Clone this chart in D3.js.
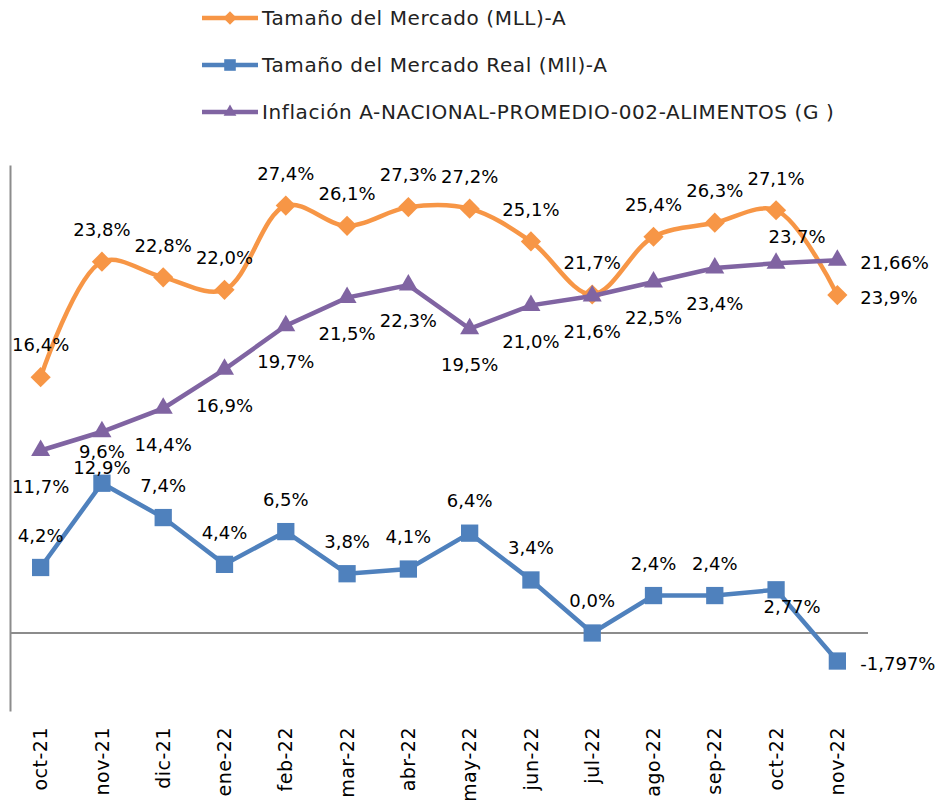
<!DOCTYPE html>
<meta charset="utf-8">
<style>
	body { margin: 0; background: #fff; }
	text { font-family: "DejaVu Sans", sans-serif; font-size: 18px; fill: #000; }
	.axis path { stroke: #8c8c8c; stroke-width: 2px; }
	.zero { stroke: #8c8c8c; stroke-width: 2px; }
	.line { fill: none; stroke-width: 4.5px; }
	.legend text { font-size: 20px; letter-spacing: 0.6px; fill: #222; }
</style>
<svg width="938" height="800"></svg>
<script src="https://cdnjs.cloudflare.com/ajax/libs/d3/7.8.5/d3.min.js"></script>
<script>

var months = ["oct-21","nov-21","dic-21","ene-22","feb-22","mar-22","abr-22",
	"may-22","jun-22","jul-22","ago-22","sep-22","oct-22","nov-22"];

var mercado = [16.4, 23.8, 22.8, 22.0, 27.4, 26.1, 27.3, 27.2, 25.1, 21.7, 25.4, 26.3, 27.1, 21.66];
var mercadoLabels = ["16,4%","23,8%","22,8%","22,0%","27,4%","26,1%","27,3%","27,2%","25,1%","21,7%","25,4%","26,3%","27,1%","23,9%"];
var mercadoPos = ["t","t","t","t","t","t","t","t","t","t","t","t","t","r"];

var real = [4.2, 9.6, 7.4, 4.4, 6.5, 3.8, 4.1, 6.4, 3.4, 0.0, 2.4, 2.4, 2.77, -1.797];
var realLabels = ["4,2%","9,6%","7,4%","4,4%","6,5%","3,8%","4,1%","6,4%","3,4%","0,0%","2,4%","2,4%","2,77%","-1,797%"];
var realPos = ["t","t","t","t","t","t","t","t","t","t","t","t","br","r"];

var inflacion = [11.7, 12.9, 14.4, 16.9, 19.7, 21.5, 22.3, 19.5, 21.0, 21.6, 22.5, 23.4, 23.7, 23.9];
var inflacionLabels = ["11,7%","12,9%","14,4%","16,9%","19,7%","21,5%","22,3%","19,5%","21,0%","21,6%","22,5%","23,4%","23,7%","21,66%"];
var inflacionPos = ["b","b","b","b","b","b","b","b","b","b","b","b","tr","r"];

var series = [
	{name: "Tamaño del Mercado (MLL)-A", values: mercado, labels: mercadoLabels, pos: mercadoPos,
		color: "#F79646", symbol: d3.symbolDiamond2, size: 260, smooth: true},
	{name: "Tamaño del Mercado Real (Mll)-A", values: real, labels: realLabels, pos: realPos,
		color: "#4F81BD", symbol: d3.symbolSquare2, size: 380, smooth: false},
	{name: "Inflación A-NACIONAL-PROMEDIO-002-ALIMENTOS (G )", values: inflacion, labels: inflacionLabels, pos: inflacionPos,
		color: "#8064A2", symbol: d3.symbolTriangle2, size: 260, smooth: false}
];

// label offsets from the point centre
var offsets = {
	t:  {dx: 0,  dy: -32, anchor: "middle"},
	b:  {dx: 0,  dy: 36,  anchor: "middle"},
	r:  {dx: 23, dy: 3,   anchor: "start"},
	tr: {dx: 21, dy: -27, anchor: "middle"},
	br: {dx: 16, dy: 17,  anchor: "middle"}
};

var svg = d3.select("svg");

var x = d3.scaleBand().domain(months).range([10, 868]),
	y = d3.scaleLinear().domain([-5, 30]).range([711, 165]);

function cx(i) { return x(months[i]) + x.bandwidth() / 2; }

// y axis line only
svg.append("g")
	.attr("class", "axis")
	.attr("transform", "translate(10,0)")
	.call(d3.axisLeft(y).tickValues([]).tickSizeOuter(0));

svg.append("line")
	.attr("class", "zero")
	.attr("x1", x.range()[0]).attr("x2", x.range()[1])
	.attr("y1", y(0)).attr("y2", y(0));

var xAxis = svg.append("g")
	.attr("class", "axis")
	.attr("transform", "translate(0,711)")
	.call(d3.axisBottom(x).tickSize(0));
xAxis.select(".domain").remove();
xAxis.selectAll("text")
	.attr("transform", "rotate(-90)")
	.attr("x", -16)
	.attr("y", 0)
	.attr("dy", "0.35em")
	.style("text-anchor", "end")
	.style("font-family", "DejaVu Sans, sans-serif")
	.style("font-size", "19px")
	.style("letter-spacing", "0.5px")
	.attr("fill", "#000");

series.forEach(function(s) {
	var line = d3.line()
		.curve(s.smooth ? d3.curveCatmullRom.alpha(0.5) : d3.curveLinear)
		.x(function(d, i) { return cx(i); })
		.y(function(d) { return y(d); });

	svg.append("path")
		.attr("class", "line")
		.attr("d", line(s.values))
		.style("stroke", s.color);

	svg.append("g").selectAll("path")
		.data(s.values).enter().append("path")
		.attr("d", d3.symbol().type(s.symbol).size(s.size))
		.attr("transform", function(d, i) { return "translate(" + cx(i) + "," + y(d) + ")"; })
		.style("fill", s.color);
});

series.forEach(function(s) {
	svg.append("g").selectAll("text")
		.data(s.labels).enter().append("text")
		.attr("x", function(d, i) { return cx(i) + offsets[s.pos[i]].dx; })
		.attr("y", function(d, i) { return y(s.values[i]) + offsets[s.pos[i]].dy; })
		.attr("dy", "0.35em")
		.attr("text-anchor", function(d, i) { return offsets[s.pos[i]].anchor; })
		.text(function(d) { return d; });
});

// legend
var legend = svg.append("g").attr("class", "legend").selectAll("g")
	.data(series).enter().append("g")
	.attr("transform", function(d, i) { return "translate(202," + (18 + i * 47) + ")"; });

legend.append("line")
	.attr("x1", 0).attr("x2", 56)
	.attr("stroke", function(d) { return d.color; })
	.attr("stroke-width", 4.5);

legend.append("path")
	.attr("transform", "translate(28,0)")
	.attr("d", function(d) { return d3.symbol().type(d.symbol).size(d.size * 0.45)(); })
	.style("fill", function(d) { return d.color; });

legend.append("text")
	.attr("x", 60)
	.attr("dy", "0.35em")
	.text(function(d) { return d.name; });

</script>
